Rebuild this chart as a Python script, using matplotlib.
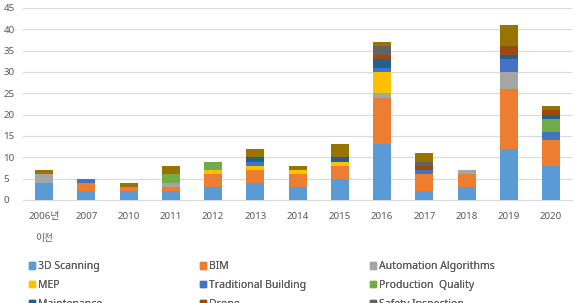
import numpy as np
import matplotlib
matplotlib.use("Agg")
import matplotlib.pyplot as plt
from matplotlib.patches import Patch

## fonts: latin first, korean fallback for the first tick label
plt.rcParams['font.family'] = ['Noto Sans', 'Noto Sans CJK KR']

## categories (years)
years = ['2006년\n이전', '2007', '2010', '2011', '2012', '2013', '2014',
         '2015', '2016', '2017', '2018', '2019', '2020']

## series values, stacked bottom to top
scanning = [4, 2, 2, 2, 3, 4, 3, 5, 13, 2, 3, 12, 8]
bim = [0, 2, 1, 1, 3, 3, 3, 3, 11, 4, 3, 14, 6]
automation = [2, 0, 0, 1, 0, 0, 0, 0, 1, 0, 1, 4, 0]
mep = [0, 0, 0, 0, 1, 1, 1, 1, 5, 0, 0, 0, 0]
traditional = [0, 1, 0, 0, 0, 1, 0, 0, 1, 1, 0, 3, 2]
production = [0, 0, 0, 2, 2, 0, 0, 0, 0, 0, 0, 0, 3]
maintenance = [0, 0, 0, 0, 0, 1, 0, 1, 2, 0, 0, 1, 1]
drone = [0, 0, 0, 0, 0, 0, 0, 0, 1, 1, 0, 2, 1]
safety = [0, 0, 0, 0, 0, 0, 0, 0, 2, 1, 0, 0, 0]
others = [1, 0, 1, 2, 0, 2, 1, 3, 1, 2, 0, 5, 1]

labels = ['3D Scanning', 'BIM', 'Automation Algorithms', 'MEP',
          'Traditional Building', 'Production  Quality', 'Maintenance',
          'Drone', 'Safety Inspection', 'Others']
series = [scanning, bim, automation, mep, traditional, production,
          maintenance, drone, safety, others]
colors = ['#5B9BD5', '#ED7D31', '#A5A5A5', '#FFC000', '#4472C4',
          '#70AD47', '#255E91', '#9E480E', '#636363', '#997300']

fig = plt.figure(figsize=(5.74, 3.03), dpi=100)
ax = fig.add_axes([0.04, 0.34, 0.957, 0.634])

x = np.arange(len(years))
bottom = np.zeros(len(years))
for vals, col, lab in zip(series, colors, labels):
    ax.bar(x, vals, 0.43, bottom=bottom, color=col, label=lab, zorder=3)
    bottom += np.array(vals)

ax.set_xlim(-0.5, len(years) - 0.5)
ax.set_ylim(0, 45)
ax.set_yticks(range(0, 46, 5))
ax.set_xticks(x)
ax.set_xticklabels(years, linespacing=2.8, va='top')
ax.tick_params(axis='both', length=0, labelsize=7, colors='#595959')
ax.tick_params(axis='x', pad=9)
ax.tick_params(axis='y', pad=14)
for lbl in ax.get_yticklabels():
    lbl.set_horizontalalignment('left')
ax.grid(axis='y', color='#D9D9D9', linewidth=0.8, zorder=0)
for s in ['top', 'right', 'left']:
    ax.spines[s].set_visible(False)
ax.spines['bottom'].set_color('#D9D9D9')

## legend: three columns, placed by hand like the excel layout
col_x = [29, 200, 370]
for c in range(3):
    idx = list(range(c, len(labels), 3))
    handles = [Patch(color=colors[i]) for i in idx]
    leg = fig.legend(handles, [labels[i] for i in idx],
                     loc='upper left', bbox_to_anchor=(col_x[c] / 574, 1 - 261 / 303),
                     frameon=False, fontsize=7.5, handlelength=0.6, handleheight=0.6,
                     handletextpad=0.3, labelspacing=0.75, borderaxespad=0, borderpad=0,
                     labelcolor='#595959')
    fig.add_artist(leg)

fig.savefig('out.png', dpi=100)
